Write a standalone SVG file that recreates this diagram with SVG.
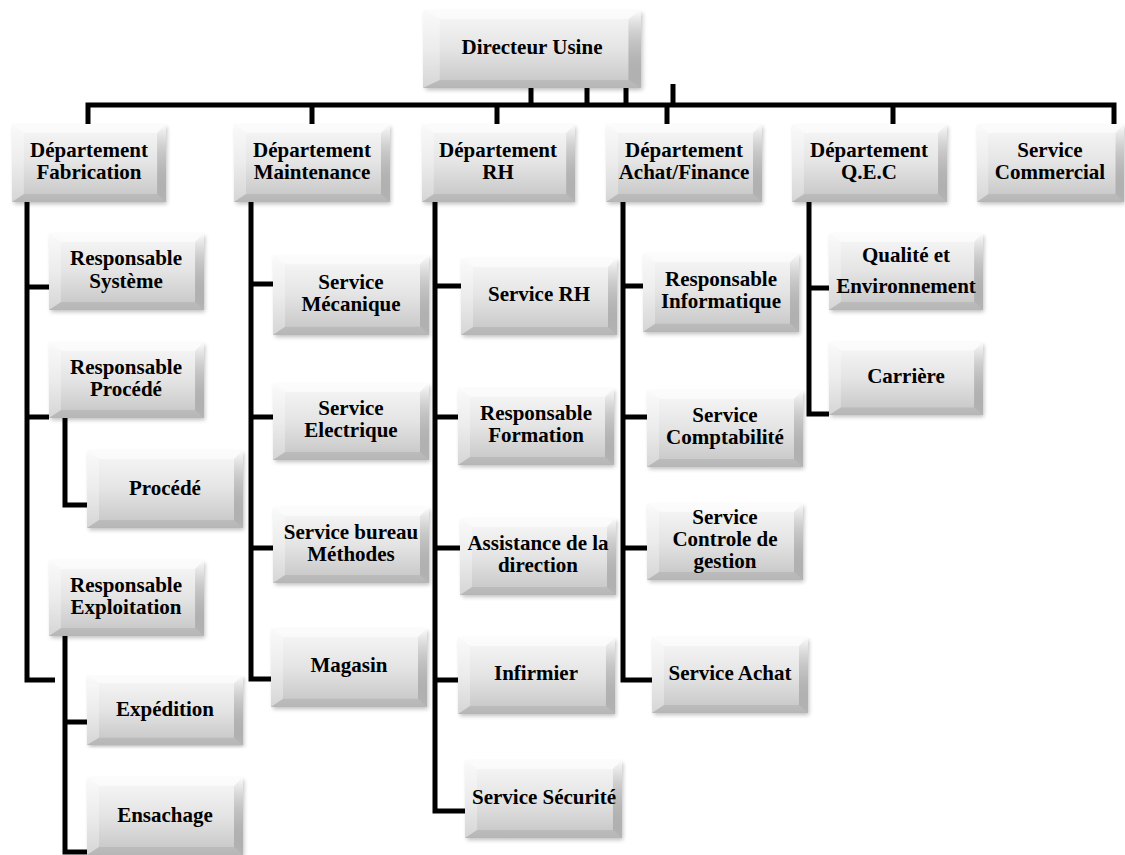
<svg xmlns="http://www.w3.org/2000/svg" xmlns:xlink="http://www.w3.org/1999/xlink" width="1125" height="855" viewBox="0 0 1125 855">
<style>
.t{font-family:"Liberation Serif","Times New Roman",serif;font-weight:bold;font-size:21px;fill:#000;text-anchor:middle}
.c{fill:none;stroke:#000;stroke-width:5;stroke-linejoin:miter;stroke-linecap:butt}
</style>
<defs>
<linearGradient id="g" x1="0" y1="0" x2="0" y2="1">
<stop offset="0" stop-color="#f8f8f8"/>
<stop offset="0.5" stop-color="#e4e4e4"/>
<stop offset="1" stop-color="#c4c4c4"/>
</linearGradient>
<linearGradient id="gr" x1="0" y1="0" x2="0" y2="1">
<stop offset="0" stop-color="#ffffff" stop-opacity="0.7"/>
<stop offset="1" stop-color="#000000" stop-opacity="0.08"/>
</linearGradient>
<filter id="sh" x="-10%" y="-10%" width="120%" height="130%">
<feGaussianBlur stdDeviation="2"/>
</filter>
<symbol id="bx" viewBox="0 0 156 77" preserveAspectRatio="none" overflow="visible">
<rect x="2" y="3" width="155" height="76" fill="#000" opacity="0.25" filter="url(#sh)"/>
<rect width="156" height="77" fill="url(#g)"/>
<polygon points="0,0 156,0 147,9 12,9" fill="#fff" opacity="0.55"/>
<polygon points="0,0 12,9 12,69 0,77" fill="#fff" opacity="0.3"/>
<polygon points="156,0 156,77 147,69 147,9" fill="url(#gr)"/>
<polygon points="0,77 156,77 147,69 12,69" fill="#000" opacity="0.07"/>
</symbol>
</defs>
<rect width="1125" height="855" fill="#fff"/>

<g id="connectors" class="c">
<path d="M88,124 V105 H1114 V124"/>
<path d="M312,105 V124 M497,105 V124 M667,105 V124 M893,105 V124"/>
<path d="M531,88 V105 M587,88 V105 M626,88 V105 M673,84 V105"/>
<path d="M27,202 V680 H55 M27,287 H49 M27,417 H49"/>
<path d="M65,418 V505 H87"/>
<path d="M65,636 V852 H87 M65,722 H87"/>
<path d="M251,202 V679 H271 M251,284 H273 M251,417 H273 M251,548 H273"/>
<path d="M435,202 V811 H465 M435,286 H461 M435,417 H458 M435,548 H460 M435,680 H458"/>
<path d="M623,202 V680 H652 M623,286 H643 M623,417 H647 M623,548 H647"/>
<path d="M809,202 V414 H829 M809,288 H829"/>
</g>

<g id="directeur"><use xlink:href="#bx" x="423" y="10" width="218" height="78"/><text class="t" x="532" y="54">Directeur Usine</text></g>

<g id="dep-fabrication"><use xlink:href="#bx" x="12" y="124" width="154" height="78"/><text class="t" x="89" y="157">Département</text><text class="t" x="89" y="179">Fabrication</text></g>
<g id="dep-maintenance"><use xlink:href="#bx" x="234" y="124" width="156" height="78"/><text class="t" x="312" y="157">Département</text><text class="t" x="312" y="179">Maintenance</text></g>
<g id="dep-rh"><use xlink:href="#bx" x="422" y="124" width="153" height="78"/><text class="t" x="498" y="157">Département</text><text class="t" x="498" y="179">RH</text></g>
<g id="dep-achat"><use xlink:href="#bx" x="606" y="124" width="156" height="78"/><text class="t" x="684" y="157">Département</text><text class="t" x="684" y="179">Achat/Finance</text></g>
<g id="dep-qec"><use xlink:href="#bx" x="792" y="124" width="155" height="78"/><text class="t" x="869" y="157">Département</text><text class="t" x="869" y="179">Q.E.C</text></g>
<g id="serv-commercial"><use xlink:href="#bx" x="977" y="124" width="147" height="78"/><text class="t" x="1050" y="157">Service</text><text class="t" x="1050" y="179">Commercial</text></g>

<g id="resp-systeme"><use xlink:href="#bx" x="49" y="233" width="155" height="77"/><text class="t" x="126" y="265">Responsable</text><text class="t" x="126" y="288">Système</text></g>
<g id="resp-procede"><use xlink:href="#bx" x="49" y="342" width="155" height="76"/><text class="t" x="126" y="374">Responsable</text><text class="t" x="126" y="396">Procédé</text></g>
<g id="procede"><use xlink:href="#bx" x="87" y="450" width="156" height="78"/><text class="t" x="165" y="495">Procédé</text></g>
<g id="resp-exploitation"><use xlink:href="#bx" x="49" y="560" width="155" height="76"/><text class="t" x="126" y="592">Responsable</text><text class="t" x="126" y="614">Exploitation</text></g>
<g id="expedition"><use xlink:href="#bx" x="87" y="675" width="156" height="70"/><text class="t" x="165" y="716">Expédition</text></g>
<g id="ensachage"><use xlink:href="#bx" x="87" y="777" width="156" height="78"/><text class="t" x="165" y="822">Ensachage</text></g>

<g id="serv-mecanique"><use xlink:href="#bx" x="273" y="255" width="156" height="80"/><text class="t" x="351" y="289">Service</text><text class="t" x="351" y="311">Mécanique</text></g>
<g id="serv-electrique"><use xlink:href="#bx" x="273" y="383" width="156" height="77"/><text class="t" x="351" y="415">Service</text><text class="t" x="351" y="437">Electrique</text></g>
<g id="serv-methodes"><use xlink:href="#bx" x="273" y="507" width="156" height="76"/><text class="t" x="351" y="539">Service bureau</text><text class="t" x="351" y="561">Méthodes</text></g>
<g id="magasin"><use xlink:href="#bx" x="271" y="628" width="156" height="79"/><text class="t" x="349" y="672">Magasin</text></g>

<g id="serv-rh"><use xlink:href="#bx" x="461" y="258" width="156" height="77"/><text class="t" x="539" y="301">Service RH</text></g>
<g id="resp-formation"><use xlink:href="#bx" x="458" y="388" width="156" height="77"/><text class="t" x="536" y="420">Responsable</text><text class="t" x="536" y="442">Formation</text></g>
<g id="assistance"><use xlink:href="#bx" x="460" y="518" width="156" height="77"/><text class="t" x="538" y="550">Assistance de la</text><text class="t" x="538" y="572">direction</text></g>
<g id="infirmier"><use xlink:href="#bx" x="458" y="637" width="157" height="77"/><text class="t" x="536" y="680">Infirmier</text></g>
<g id="serv-securite"><use xlink:href="#bx" x="465" y="760" width="157" height="78"/><text class="t" x="544" y="804">Service Sécurité</text></g>

<g id="resp-informatique"><use xlink:href="#bx" x="643" y="253" width="156" height="79"/><text class="t" x="721" y="286">Responsable</text><text class="t" x="721" y="308">Informatique</text></g>
<g id="serv-comptabilite"><use xlink:href="#bx" x="647" y="390" width="156" height="77"/><text class="t" x="725" y="422">Service</text><text class="t" x="725" y="444">Comptabilité</text></g>
<g id="serv-controle"><use xlink:href="#bx" x="647" y="503" width="156" height="77"/><text class="t" x="725" y="524">Service</text><text class="t" x="725" y="546">Controle de</text><text class="t" x="725" y="568">gestion</text></g>
<g id="serv-achat"><use xlink:href="#bx" x="652" y="637" width="156" height="76"/><text class="t" x="730" y="680">Service Achat</text></g>

<g id="qualite"><use xlink:href="#bx" x="829" y="233" width="154" height="77"/><text class="t" x="906" y="262">Qualité et</text><text class="t" x="906" y="293">Environnement</text></g>
<g id="carriere"><use xlink:href="#bx" x="829" y="342" width="154" height="73"/><text class="t" x="906" y="383">Carrière</text></g>
</svg>
